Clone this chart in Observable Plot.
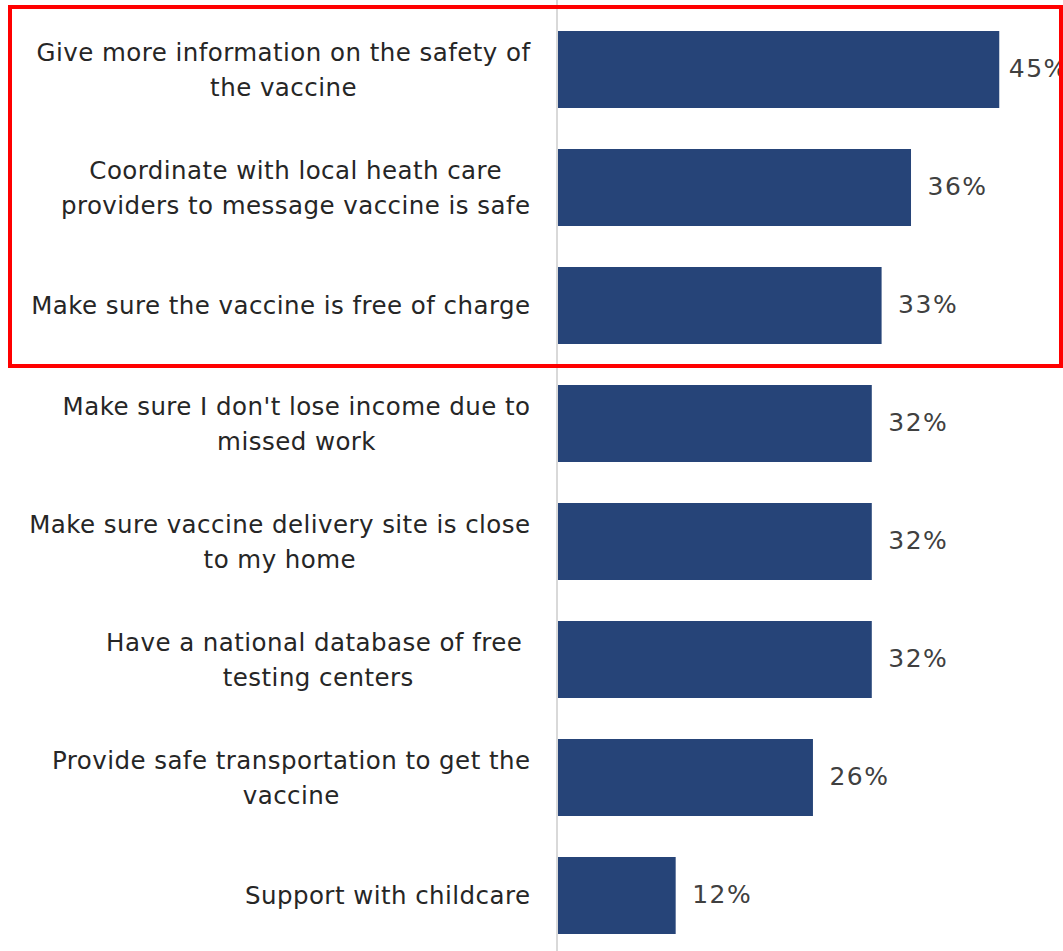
<!DOCTYPE html>
<html>
<head>
<meta charset="utf-8">
<script src="https://cdn.jsdelivr.net/npm/d3@7"></script>
<script src="https://cdn.jsdelivr.net/npm/@observablehq/plot@0.6"></script>
<style>
  html, body { margin: 0; padding: 0; background: #fff; }
  #wrap { position: relative; width: 1063px; height: 951px; overflow: hidden; }
  #highlight { position: absolute; left: 8px; top: 5px; width: 1047px; height: 355px; border: 4px solid #ff0000; pointer-events: none; }
  .cat-label { letter-spacing: 0.45px; }
  .val-label { letter-spacing: 1.5px; }
</style>
</head>
<body>
<div id="wrap"><div id="chart"></div><div id="highlight"></div></div>
<script>
const categories = [
  "Give more information on the safety of\nthe vaccine",
  "Coordinate with local heath care\nproviders to message vaccine is safe",
  "Make sure the vaccine is free of charge",
  "Make sure I don't lose income due to\nmissed work",
  "Make sure vaccine delivery site is close\nto my home",
  "Have a national database of free \ntesting centers",
  "Provide safe transportation to get the\nvaccine",
  "Support with childcare"
];
const values = [45, 36, 33, 32, 32, 32, 26, 12];
const valueLabels = ["45%", "36%", "33%", "32%", "32%", "32%", "26%", "12%"];

const data = categories.map((c, i) => ({category: c, value: values[i], label: valueLabels[i]}));

const FONT = "DejaVu Sans, sans-serif";
const FS = 24.5;
const LS = 0.45;
const VFS = 25;
const ctx = document.createElement("canvas").getContext("2d");
ctx.font = `${FS}px "DejaVu Sans"`;
const lineW = l => ctx.measureText(l).width + LS * l.length;
const blockWidth = c => Math.max(...c.split("\n").map(lineW));

const labelMarks = data.map(d => Plot.text([d], {
  x: () => 0,
  y: "category",
  text: "category",
  textAnchor: "middle",
  dx: -(28 + blockWidth(d.category) / 2),
  dy: -3,
  fontSize: FS,
  lineHeight: 1.45,
  fill: "#262626",
  className: "cat-label"
}));

// the largest value's label sits closer to its bar (as in the source)
const maxValue = d3.max(values);
const isLargest = d => d.value === maxValue;

const chart = Plot.plot({
  width: 1063,
  height: 951,
  marginLeft: 558,
  marginRight: 0,
  marginTop: 0,
  marginBottom: 0,
  style: {fontFamily: FONT, background: "#fff", overflow: "hidden"},
  x: {domain: [0, 51.5], axis: null},
  y: {domain: categories, range: [-11, 976], padding: 0.349, axis: null},
  marks: [
    Plot.barX(data, {x: "value", y: "category", fill: "#264478"}),
    Plot.ruleX([0], {stroke: "#d9d9d9", strokeWidth: 2, dx: -1.5}),
    Plot.text(data.filter(d => !isLargest(d)), {x: "value", y: "category", text: "label", textAnchor: "start", dx: 16, dy: -1, fontSize: VFS, fill: "#404040", className: "val-label"}),
    Plot.text(data.filter(isLargest), {x: "value", y: "category", text: "label", textAnchor: "start", dx: 9, dy: -1, fontSize: VFS, fill: "#404040", className: "val-label"}),
    ...labelMarks
  ]
});
document.getElementById("chart").appendChild(chart);
</script>
</body>
</html>
